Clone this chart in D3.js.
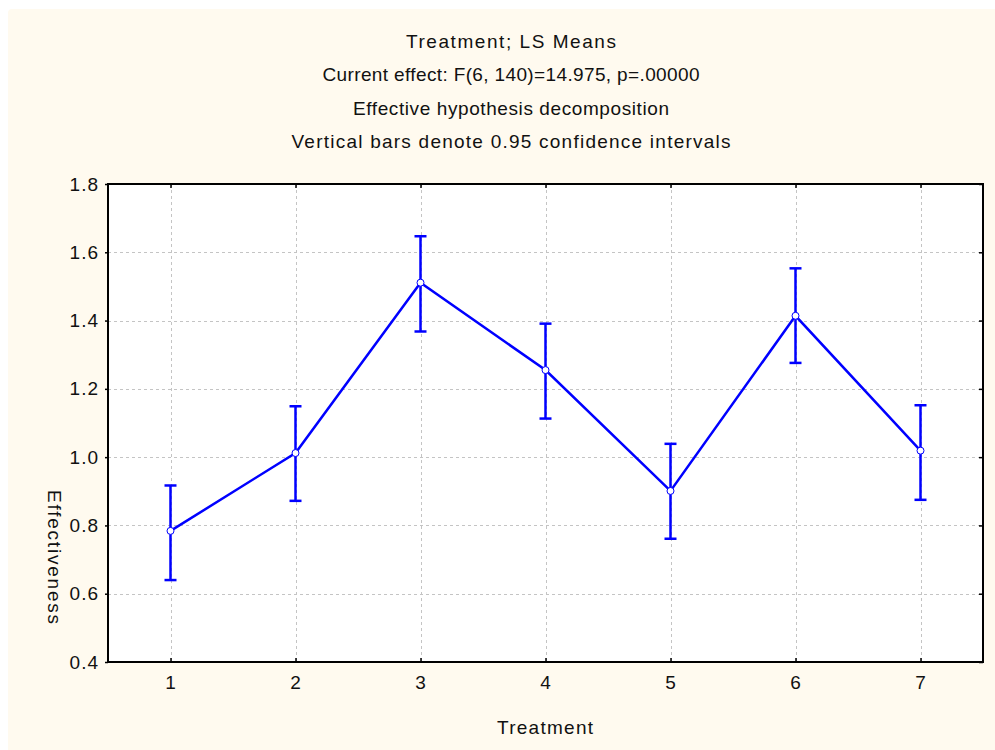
<!DOCTYPE html>
<html>
<head>
<meta charset="utf-8">
<script src="https://cdn.jsdelivr.net/npm/d3@7"></script>
<style>
  html, body { margin: 0; padding: 0; background: #ffffff; }
  svg { display: block; font-family: "Liberation Sans", Arial, sans-serif; }
</style>
</head>
<body>
<svg id="chart" width="995" height="750"></svg>
<script>
// LS means of effectiveness per treatment, with 0.95 confidence limits
const treatments = [1, 2, 3, 4, 5, 6, 7];
const means = [0.784, 1.012, 1.511, 1.255, 0.901, 1.414, 1.019];
const lowerCI = [0.640, 0.872, 1.368, 1.113, 0.761, 1.276, 0.875];
const upperCI = [0.917, 1.149, 1.647, 1.391, 1.039, 1.553, 1.152];
const yTicks = [0.4, 0.6, 0.8, 1.0, 1.2, 1.4, 1.6, 1.8];

const titleLines = [
  "Treatment; LS Means",
  "Current effect: F(6, 140)=14.975, p=.00000",
  "Effective hypothesis decomposition",
  "Vertical bars denote 0.95 confidence intervals"
];
const titleWidths = [210, 377, 316, 439];
const xLabel = "Treatment";
const yLabel = "Effectiveness";

const svg = d3.select("#chart");
const W = 995, H = 750;
const plot = { left: 108, top: 184, right: 983, bottom: 662 };
const FS = 19;

// cream page panel
svg.append("rect")
  .attr("x", 8).attr("y", 9)
  .attr("width", W - 8 + 4).attr("height", H - 9 + 4)
  .attr("rx", 4)
  .attr("fill", "#fffaef");

// title block
svg.append("g").selectAll("text")
  .data(titleLines)
  .join("text")
  .attr("x", 511)
  .attr("y", (d, i) => 48 + i * 33.4)
  .attr("text-anchor", "middle")
  .attr("font-size", FS)
  .attr("textLength", (d, i) => titleWidths[i])
  .attr("lengthAdjust", "spacing")
  .attr("fill", "#111")
  .text(d => d);

const x = d3.scaleLinear().domain([0.5, 7.5]).range([plot.left, plot.right]);
const y = d3.scaleLinear().domain([0.4, 1.8]).range([plot.bottom, plot.top]);

// plot area
svg.append("rect")
  .attr("x", plot.left).attr("y", plot.top)
  .attr("width", plot.right - plot.left).attr("height", plot.bottom - plot.top)
  .attr("fill", "#ffffff");

// dashed grid
const grid = svg.append("g").attr("stroke", "#c4c4c4").attr("stroke-width", 1)
  .attr("stroke-dasharray", "3,3").attr("shape-rendering", "crispEdges");
grid.selectAll("line.gx")
  .data(treatments)
  .join("line")
  .attr("class", "gx")
  .attr("x1", d => Math.round(x(d)) + 0.5).attr("x2", d => Math.round(x(d)) + 0.5)
  .attr("y1", plot.top).attr("y2", plot.bottom);
grid.selectAll("line.gy")
  .data(yTicks.slice(1, -1))
  .join("line")
  .attr("class", "gy")
  .attr("y1", d => Math.round(y(d)) + 0.5).attr("y2", d => Math.round(y(d)) + 0.5)
  .attr("x1", plot.left).attr("x2", plot.right);

// axes
const fmt = d3.format(".1f");
const styleAxis = g => {
  g.select(".domain").remove();
  g.selectAll(".tick line").attr("stroke", "#000").attr("stroke-width", 1.5);
  g.selectAll(".tick text").attr("font-size", FS).attr("fill", "#111")
    .attr("letter-spacing", "1px")
    .attr("font-family", "\"Liberation Sans\", Arial, sans-serif");
};

svg.append("g")
  .attr("transform", `translate(${plot.left},0)`)
  .call(d3.axisLeft(y).tickValues(yTicks).tickFormat(fmt).tickSize(3).tickPadding(6))
  .call(styleAxis);

svg.append("g")
  .attr("transform", `translate(${plot.right},0)`)
  .call(d3.axisLeft(y).tickValues(yTicks).tickFormat("").tickSize(4))
  .call(styleAxis);

svg.append("g")
  .attr("transform", `translate(0,${plot.bottom})`)
  .call(d3.axisTop(x).tickValues(treatments).tickFormat("").tickSize(4))
  .call(styleAxis);

svg.append("g")
  .attr("transform", `translate(0,${plot.bottom})`)
  .call(d3.axisBottom(x).tickValues(treatments).tickFormat(d3.format("d")).tickSize(0).tickPadding(14))
  .call(styleAxis);

svg.append("g")
  .attr("transform", `translate(0,${plot.top})`)
  .call(d3.axisBottom(x).tickValues(treatments).tickFormat("").tickSize(4))
  .call(styleAxis);

// frame
svg.append("rect")
  .attr("x", plot.left).attr("y", plot.top)
  .attr("width", plot.right - plot.left).attr("height", plot.bottom - plot.top)
  .attr("fill", "none").attr("stroke", "#000").attr("stroke-width", 2);

// axis titles
svg.append("text")
  .attr("x", 545).attr("y", 734)
  .attr("text-anchor", "middle").attr("font-size", FS).attr("fill", "#111")
  .attr("textLength", 96).attr("lengthAdjust", "spacing")
  .text(xLabel);

svg.append("text")
  .attr("transform", "translate(48,557) rotate(90)")
  .attr("text-anchor", "middle").attr("font-size", FS).attr("fill", "#111")
  .attr("textLength", 134).attr("lengthAdjust", "spacing")
  .text(yLabel);

// confidence interval whiskers
const blue = "#0000ff";
const capHalf = 6;
const ci = svg.append("g").attr("stroke", blue).attr("stroke-width", 2.5);
treatments.forEach((t, i) => {
  const cx = x(t);
  ci.append("line").attr("x1", cx).attr("x2", cx)
    .attr("y1", y(lowerCI[i])).attr("y2", y(upperCI[i]));
  ci.append("line").attr("x1", cx - capHalf).attr("x2", cx + capHalf)
    .attr("y1", y(upperCI[i])).attr("y2", y(upperCI[i]));
  ci.append("line").attr("x1", cx - capHalf).attr("x2", cx + capHalf)
    .attr("y1", y(lowerCI[i])).attr("y2", y(lowerCI[i]));
});

// means line
const line = d3.line().x((d, i) => x(treatments[i])).y(d => y(d));
svg.append("path")
  .datum(means)
  .attr("d", line)
  .attr("fill", "none")
  .attr("stroke", blue)
  .attr("stroke-width", 2.5)
  .attr("stroke-linejoin", "miter");

// mean markers
svg.append("g").selectAll("circle")
  .data(means)
  .join("circle")
  .attr("cx", (d, i) => x(treatments[i]))
  .attr("cy", d => y(d))
  .attr("r", 3.5)
  .attr("fill", "#ffffff")
  .attr("stroke", blue)
  .attr("stroke-width", 1);
</script>
</body>
</html>
